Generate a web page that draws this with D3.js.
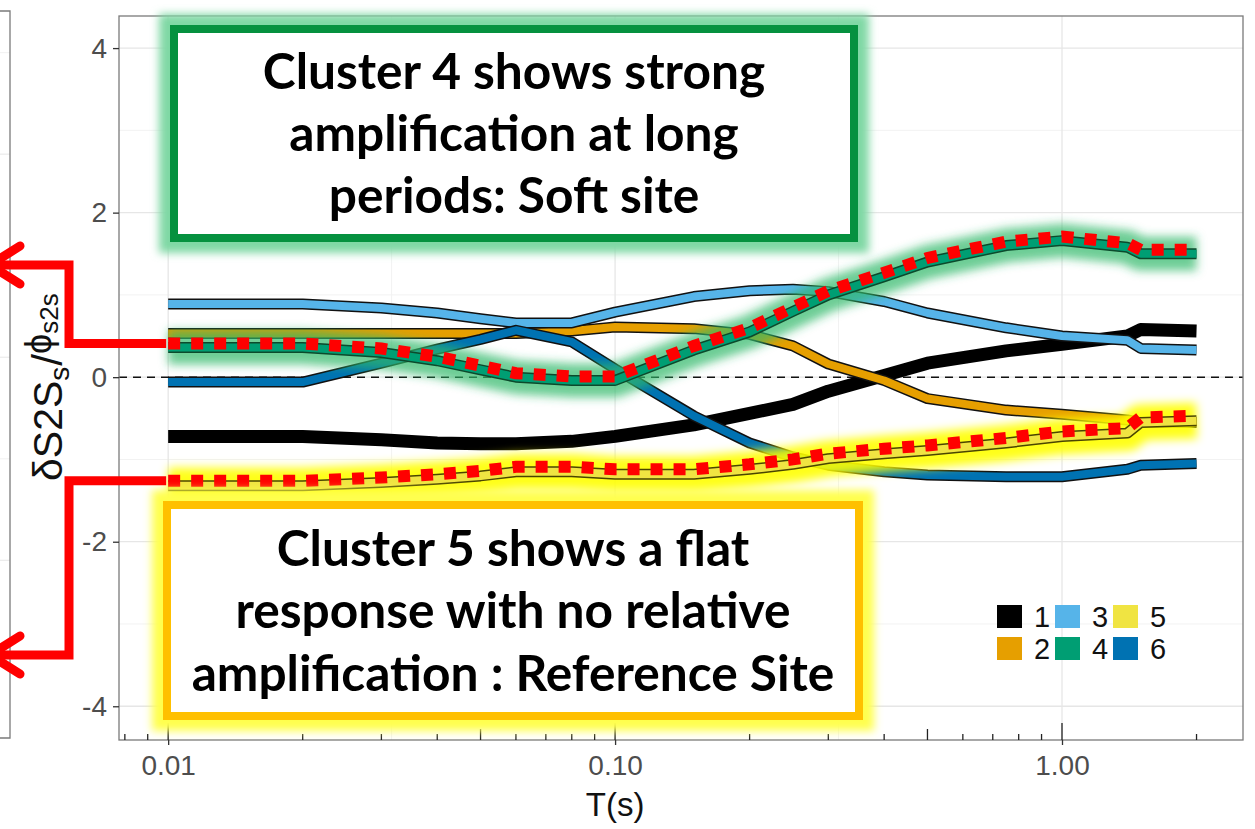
<!DOCTYPE html>
<html>
<head>
<meta charset="utf-8">
<script src="https://cdn.jsdelivr.net/npm/d3@7"></script>
<style>
  body { margin: 0; background: #fff; }
  svg { display: block; font-family: "Liberation Sans", Arial, sans-serif; }
</style>
</head>
<body>
<div id="chart"></div>
<script>
// --- data ---
const periods = [0.01, 0.02, 0.03, 0.04, 0.05, 0.06, 0.08, 0.1, 0.15, 0.2, 0.25, 0.3, 0.4, 0.5, 0.75, 1.0, 1.4, 1.5, 2.0];
const cluster1 = [-0.72, -0.72, -0.76, -0.80, -0.81, -0.81, -0.78, -0.72, -0.58, -0.44, -0.33, -0.17, 0.02, 0.17, 0.32, 0.40, 0.50, 0.58, 0.56];
const cluster2 = [0.53, 0.53, 0.53, 0.53, 0.53, 0.53, 0.56, 0.61, 0.59, 0.52, 0.38, 0.16, -0.04, -0.26, -0.40, -0.45, -0.52, -0.55, -0.55];
const cluster3 = [0.89, 0.89, 0.84, 0.78, 0.71, 0.66, 0.66, 0.79, 0.98, 1.05, 1.07, 1.04, 0.92, 0.78, 0.60, 0.50, 0.45, 0.35, 0.33];
const cluster4 = [0.36, 0.36, 0.30, 0.20, 0.09, 0.00, -0.04, -0.04, 0.33, 0.55, 0.80, 1.00, 1.22, 1.40, 1.60, 1.66, 1.58, 1.50, 1.50];
const cluster5 = [-1.32, -1.32, -1.28, -1.24, -1.20, -1.15, -1.15, -1.18, -1.18, -1.12, -1.06, -0.99, -0.93, -0.89, -0.80, -0.72, -0.68, -0.55, -0.53];
const cluster6 = [-0.06, -0.06, 0.17, 0.34, 0.46, 0.57, 0.43, 0.10, -0.47, -0.80, -0.97, -1.07, -1.15, -1.19, -1.21, -1.21, -1.12, -1.07, -1.05];

const clusterIds = ["1", "2", "3", "4", "5", "6"];
const clusterColors = ["#000000", "#E69F00", "#56B4E9", "#009E73", "#F0E442", "#0072B2"];

const yTicks = [-4, -2, 0, 2, 4];
const yMinor = [-3, -1, 1, 3];
const xTicks = [0.01, 0.1, 1];
const xMinor = [Math.pow(10, -1.5), Math.pow(10, -0.5)];
const leftGrid = [-3, -2, -1, 0, 1, 2, 3];

const note4 = ["Cluster 4 shows strong", "amplification at long", "periods: Soft site"];
const note5 = ["Cluster 5 shows a flat", "response with no relative", "amplification : Reference Site"];

// --- setup ---
const W = 1255, H = 829;
const panel = { left: 119, right: 1243, top: 16, bottom: 740 };

const svg = d3.select("#chart").append("svg")
  .attr("width", W).attr("height", H);
svg.append("rect").attr("width", W).attr("height", H).attr("fill", "#fff");

const defs = svg.append("defs");
function blurFilter(id, sd) {
  defs.append("filter").attr("id", id)
    .attr("filterUnits", "userSpaceOnUse")
    .attr("x", -50).attr("y", -50).attr("width", W + 100).attr("height", H + 100)
    .append("feGaussianBlur").attr("stdDeviation", sd);
}
blurFilter("soft", 5);
blurFilter("soft2", 4);

const x = d3.scaleLog()
  .domain([Math.pow(10, -2.11), Math.pow(10, 0.405)])
  .range([panel.left, panel.right]);
const y = d3.scaleLinear().domain([-4.41, 4.39]).range([panel.bottom, panel.top]);

// left (cut off) neighbouring panel
const yLeft = d3.scaleLinear().domain([-3.75, 3.41]).range([738, 11]);
const leftG = svg.append("g");
leftG.selectAll("line.lg").data(leftGrid).enter().append("line")
  .attr("x1", -20).attr("x2", 10)
  .attr("y1", d => yLeft(d)).attr("y2", d => yLeft(d))
  .attr("stroke", d => d % 2 === 0 ? "#ebebeb" : "#f3f3f3").attr("stroke-width", 1.2);
leftG.append("path")
  .attr("d", `M-20,${yLeft(3.41)}H10V${yLeft(-3.75)}H-20`)
  .attr("fill", "none").attr("stroke", "#7a7a7a").attr("stroke-width", 1.3);

// --- grid ---
const grid = svg.append("g");
grid.selectAll("line.ymin").data(yMinor).enter().append("line")
  .attr("x1", panel.left).attr("x2", panel.right)
  .attr("y1", d => y(d)).attr("y2", d => y(d))
  .attr("stroke", "#f2f2f2").attr("stroke-width", 1);
grid.selectAll("line.xmin").data(xMinor).enter().append("line")
  .attr("y1", panel.top).attr("y2", panel.bottom)
  .attr("x1", d => x(d)).attr("x2", d => x(d))
  .attr("stroke", "#f2f2f2").attr("stroke-width", 1);
grid.selectAll("line.ymaj").data(yTicks).enter().append("line")
  .attr("x1", panel.left).attr("x2", panel.right)
  .attr("y1", d => y(d)).attr("y2", d => y(d))
  .attr("stroke", "#e6e6e6").attr("stroke-width", 1.3);
grid.selectAll("line.xmaj").data(xTicks).enter().append("line")
  .attr("y1", panel.top).attr("y2", panel.bottom)
  .attr("x1", d => x(d)).attr("x2", d => x(d))
  .attr("stroke", "#e6e6e6").attr("stroke-width", 1.3);

// zero reference
svg.append("line")
  .attr("x1", panel.left).attr("x2", panel.right)
  .attr("y1", y(0)).attr("y2", y(0))
  .attr("stroke", "#111").attr("stroke-width", 1.6)
  .attr("stroke-dasharray", "8 6");

// --- cluster lines ---
const series = [cluster1, cluster2, cluster3, cluster4, cluster5, cluster6];
const outlineColors = ["#000", "#111", "#111", "#0c4a2c", "#4a4500", "#111"];
const line = d3.line().x((d, i) => x(periods[i])).y(d => y(d));
const lineG = svg.append("g").attr("stroke-linejoin", "round").attr("fill", "none");

function drawCluster(k) {
  const vals = series[k];
  if (k === 0) {
    lineG.append("path").attr("d", line(vals))
      .attr("stroke", "#000").attr("stroke-width", 13);
    return;
  }
  lineG.append("path").attr("d", line(vals))
    .attr("stroke", outlineColors[k]).attr("stroke-width", 11);
  lineG.append("path").attr("d", line(vals))
    .attr("stroke", clusterColors[k]).attr("stroke-width", 8);
}
[0, 1, 2, 5].forEach(drawCluster);

// highlight glows over the other lines
lineG.append("path").attr("d", line(cluster4))
  .attr("stroke", "#2fb868").attr("stroke-opacity", 0.7)
  .attr("stroke-width", 34).attr("filter", "url(#soft)");
lineG.append("path").attr("d", line(cluster5))
  .attr("stroke", "#ffff00").attr("stroke-opacity", 0.9)
  .attr("stroke-width", 36).attr("filter", "url(#soft)");
drawCluster(3);
drawCluster(4);

// red dotted traces drawn on top
lineG.append("path").attr("d", line(cluster4))
  .attr("transform", "translate(0,-4)")
  .attr("stroke", "#ff0000").attr("stroke-width", 12)
  .attr("stroke-dasharray", "12 11").attr("stroke-linejoin", "miter");
lineG.append("path").attr("d", line(cluster5))
  .attr("transform", "translate(0,-5)")
  .attr("stroke", "#ff0000").attr("stroke-width", 12)
  .attr("stroke-dasharray", "12 11").attr("stroke-linejoin", "miter");

// --- panel border and axes ---
svg.append("rect")
  .attr("x", panel.left).attr("y", panel.top)
  .attr("width", panel.right - panel.left).attr("height", panel.bottom - panel.top)
  .attr("fill", "none").attr("stroke", "#7a7a7a").attr("stroke-width", 1.3);

const yAxis = svg.append("g")
  .attr("transform", `translate(${panel.left},0)`)
  .call(d3.axisLeft(y).tickValues(yTicks).tickFormat(d => String(d)).tickSize(6).tickPadding(6));
const xAxis = svg.append("g")
  .attr("transform", `translate(0,${panel.bottom})`)
  .call(d3.axisBottom(x).tickValues(xTicks).tickFormat(d3.format(".2f")).tickSize(5).tickPadding(10));
[yAxis, xAxis].forEach(g => {
  g.select(".domain").remove();
  g.selectAll(".tick line").attr("stroke", "#333").attr("stroke-width", 1.3);
  g.selectAll(".tick text").attr("fill", "#4d4d4d").attr("font-size", 28)
    .attr("font-family", "Liberation Sans, Arial, sans-serif");
});

// log ticks inside the bottom of the panel
const logTicks = x.ticks().filter(t => t >= x.domain()[0] && t <= 2.01);
svg.append("g").selectAll("line").data(logTicks).enter().append("line")
  .attr("x1", d => x(d)).attr("x2", d => x(d))
  .attr("y1", panel.bottom)
  .attr("y2", d => {
    const lead = Math.round(d / Math.pow(10, Math.floor(Math.log10(d) + 1e-9)));
    return panel.bottom - (lead === 1 ? 17 : lead === 5 ? 11 : 6);
  })
  .attr("stroke", "#222").attr("stroke-width", 1.3);

// axis titles
svg.append("text")
  .attr("x", x(0.1)).attr("y", 816)
  .attr("text-anchor", "middle").attr("font-size", 33).attr("fill", "#111")
  .text("T(s)");

const yt = svg.append("text")
  .attr("transform", "translate(62,481) rotate(-90)")
  .attr("text-anchor", "start").attr("font-size", 41).attr("fill", "#111");
yt.append("tspan").text("δS2S");
yt.append("tspan").attr("font-size", 28).attr("dy", 7).text("s");
yt.append("tspan").attr("font-size", 42).attr("dy", -7).attr("dx", 1).text("/");
yt.append("tspan").attr("font-size", 36).attr("dy", -11).text("ϕ");
yt.append("tspan").attr("font-size", 26).attr("dy", 7).text("s2s");

// --- legend ---
const legend = svg.append("g");
const legendItems = clusterIds.map((id, i) => ({ id, color: clusterColors[i], col: Math.floor(i / 2), row: i % 2 }));
const lg = legend.selectAll("g").data(legendItems).enter().append("g")
  .attr("transform", d => `translate(${997 + d.col * 58},${605 + d.row * 32})`);
lg.append("rect").attr("width", 25).attr("height", 23).attr("fill", d => d.color);
lg.append("text").attr("x", 37).attr("y", 22).attr("font-size", 29).attr("fill", "#111")
  .text(d => d.id);

// --- annotation boxes ---
function noteBox(rect, stroke, glow, lines, baselines) {
  const g = svg.append("g");
  g.append("rect").attr("x", rect[0]).attr("y", rect[1]).attr("width", rect[2]).attr("height", rect[3])
    .attr("fill", "none").attr("stroke", glow).attr("stroke-width", 30)
    .attr("filter", "url(#soft2)");
  g.append("rect").attr("x", rect[0]).attr("y", rect[1]).attr("width", rect[2]).attr("height", rect[3])
    .attr("fill", "#fff").attr("stroke", stroke).attr("stroke-width", 8);
  const cx = rect[0] + rect[2] / 2;
  return g.selectAll("text.n").data(lines).enter().append("text")
    .attr("x", cx).attr("y", (d, i) => baselines[i])
    .attr("text-anchor", "middle")
    .attr("font-family", "Lato, 'Open Sans', sans-serif")
    .attr("font-weight", 700).attr("font-size", 44).attr("fill", "#000")
    .text(d => d);
}
const t4 = noteBox([174, 29, 680, 209], "#05913f", "#7fd8a4", note4, [89, 151, 213]);
const t5 = noteBox([167, 505, 692, 211], "#ffc000", "#ffff4d", note5, [566, 628, 691]);

// fit the note font to the width of the longest line
const widest = t5.nodes()[2].getComputedTextLength();
const fs = 44 * 643 / widest;
t4.attr("font-size", fs);
t5.attr("font-size", fs);

// --- red arrows to the neighbouring panel ---
const arrows = svg.append("g").attr("fill", "none").attr("stroke", "#ff0000")
  .attr("stroke-width", 9);
const yTop = y(cluster4[0]) - 4;
const yBot = y(cluster5[0]) - 5;
arrows.append("path").attr("d", `M${x(periods[0]) - 2},${yTop}H69V265H-5`).attr("stroke-linejoin", "miter");
arrows.append("path").attr("d", `M${x(periods[0]) - 2},${yBot}H69V655H-5`).attr("stroke-linejoin", "miter");
arrows.append("path").attr("d", "M20,246L-10,265L20,284").attr("stroke-linecap", "round");
arrows.append("path").attr("d", "M20,636L-10,655L20,674").attr("stroke-linecap", "round");
</script>
</body>
</html>
